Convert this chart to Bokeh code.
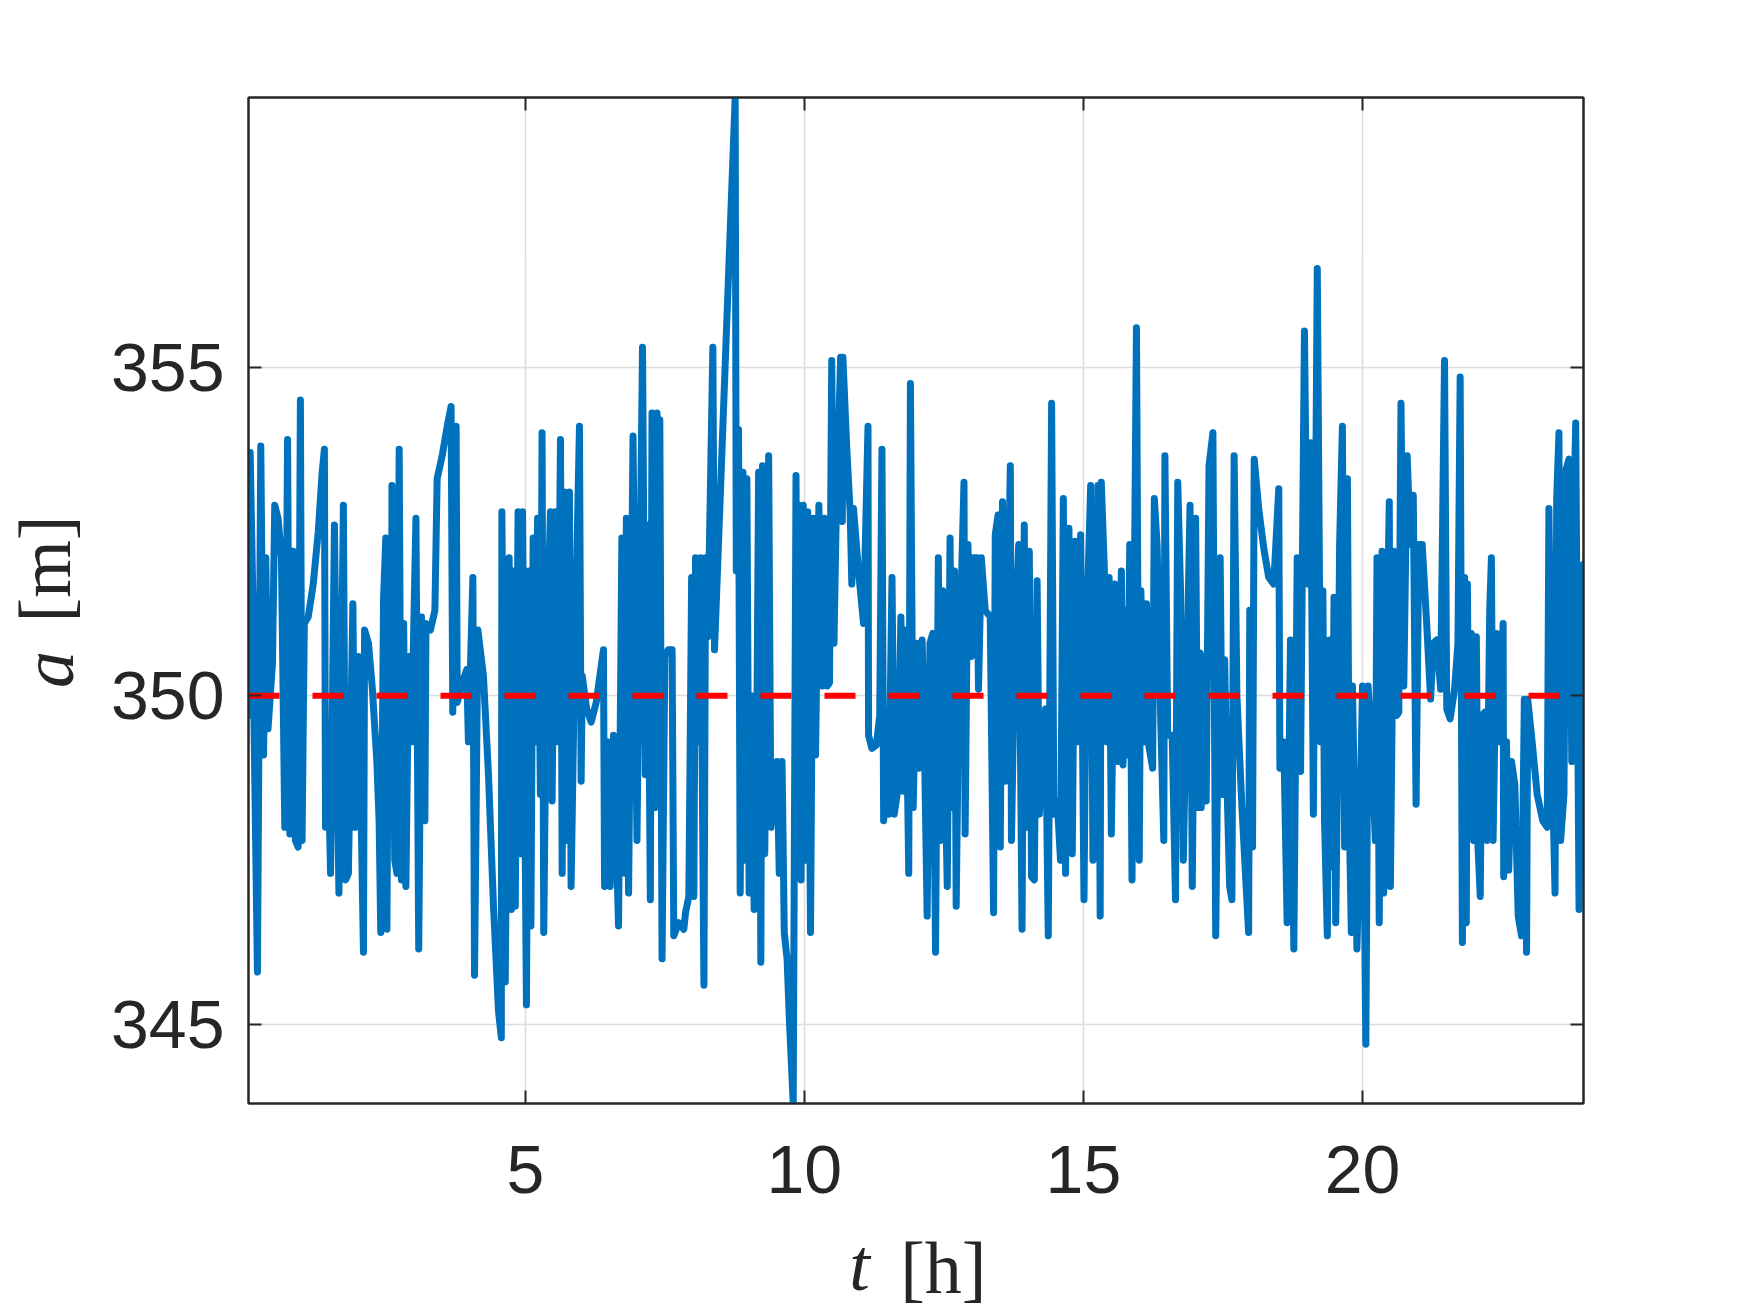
import numpy as np
from bokeh.plotting import figure
from bokeh.models import Range1d, FixedTicker, LinearAxis
from bokeh.embed import file_html
from bokeh.resources import INLINE

# ---------------- data ----------------
t_h = [0.04, 0.07, 0.12, 0.14, 0.20, 0.26, 0.31, 0.35, 0.39, 0.47, 0.51, 0.57, 0.63, 0.69, 0.74, 0.78,
       0.84, 0.88, 0.93, 0.97, 1.00, 1.04, 1.11, 1.20, 1.29, 1.36, 1.40, 1.42, 1.47, 1.51, 1.58, 1.63,
       1.66, 1.74, 1.78, 1.83, 1.91, 1.95, 2.01, 2.10, 2.12, 2.19, 2.26, 2.34, 2.38, 2.41, 2.46, 2.50,
       2.52, 2.56, 2.60, 2.61, 2.66, 2.70, 2.74, 2.78, 2.82, 2.86, 2.91, 2.96, 3.04, 3.09, 3.14, 3.20,
       3.22, 3.30, 3.38, 3.42, 3.51, 3.60, 3.67, 3.70, 3.76, 3.78, 3.87, 3.95, 3.98, 4.06, 4.09, 4.15,
       4.25, 4.34, 4.43, 4.52, 4.57, 4.58, 4.64, 4.71, 4.75, 4.79, 4.82, 4.87, 4.91, 4.95,
       5.02, 5.06, 5.10, 5.14, 5.18, 5.22, 5.27, 5.30, 5.33, 5.38, 5.45, 5.48, 5.53, 5.58, 5.63, 5.66,
       5.70, 5.75, 5.79, 5.82, 5.88, 5.97, 6.00, 6.02, 6.10, 6.18, 6.27, 6.40, 6.42, 6.47, 6.52, 6.58,
       6.67, 6.73, 6.79, 6.81, 6.85, 6.93, 7.00, 7.10, 7.15, 7.19, 7.24, 7.27, 7.32,
       7.36, 7.39, 7.41, 7.45, 7.50, 7.56, 7.63, 7.66, 7.75, 7.84, 7.87, 7.93, 7.98, 8.02, 8.05, 8.09,
       8.14, 8.20, 8.23, 8.27, 8.36, 8.39, 8.76, 8.78, 8.82, 8.85, 8.90, 8.93, 8.97, 9.01, 9.05, 9.10,
       9.15, 9.18, 9.22, 9.25, 9.29, 9.36, 9.40, 9.45, 9.51, 9.55, 9.60, 9.64, 9.69, 9.73, 9.80,
       9.85, 9.88, 9.90, 9.94, 9.98, 10.02, 10.06, 10.11, 10.16, 10.20, 10.26, 10.32, 10.36, 10.41,
       10.45, 10.49, 10.53, 10.57, 10.65, 10.68, 10.69, 10.76, 10.82, 10.85, 10.88, 10.97, 11.06,
       11.14, 11.15, 11.21, 11.29, 11.35, 11.39, 11.42, 11.48, 11.51, 11.57, 11.61, 11.67, 11.73,
       11.77, 11.81, 11.87, 11.90, 11.95, 12.01, 12.05, 12.11, 12.15, 12.20,
       12.25, 12.30, 12.35, 12.40, 12.44, 12.48, 12.51, 12.56, 12.61, 12.65, 12.69, 12.72, 12.77,
       12.86, 12.88, 12.93, 12.99, 13.03, 13.09, 13.12, 13.17, 13.24, 13.33, 13.39, 13.42, 13.47,
       13.51, 13.55, 13.60, 13.69, 13.71, 13.77, 13.84, 13.90, 13.94, 13.98, 14.03, 14.07, 14.12,
       14.17, 14.21, 14.27, 14.32, 14.37, 14.43, 14.47, 14.53, 14.59, 14.64,
       14.68, 14.74, 14.80, 14.85, 14.90, 14.95, 15.01, 15.05, 15.13, 15.17, 15.22, 15.26, 15.30,
       15.32, 15.38, 15.42, 15.46, 15.50, 15.56, 15.62, 15.68, 15.71, 15.75, 15.79, 15.83, 15.87,
       15.95, 16.00, 16.03, 16.08, 16.13, 16.17, 16.24, 16.27, 16.32, 16.38, 16.44, 16.46, 16.51,
       16.59, 16.65, 16.69, 16.74, 16.79, 16.83, 16.91, 16.95, 17.01, 17.05, 17.09,
       17.11, 17.16, 17.20, 17.25, 17.32, 17.37, 17.41, 17.45, 17.49, 17.53, 17.58, 17.62, 17.66,
       17.70, 17.75, 17.84, 17.96, 17.98, 18.03, 18.06, 18.14, 18.23, 18.32, 18.41, 18.50, 18.52,
       18.59, 18.65, 18.71, 18.77, 18.83, 18.89, 18.96, 19.01, 19.07, 19.12, 19.19, 19.25, 19.29,
       19.32, 19.37, 19.41, 19.45,
       19.49, 19.52, 19.56, 19.59, 19.64, 19.68, 19.73, 19.76, 19.80, 19.82, 19.87, 19.90, 19.95,
       20.00, 20.06, 20.10, 20.16, 20.23, 20.26, 20.30, 20.35, 20.38, 20.43, 20.48, 20.50, 20.56,
       20.61, 20.65, 20.69, 20.74, 20.80, 20.86, 20.91, 20.96, 21.01, 21.07, 21.15, 21.22, 21.27,
       21.33, 21.40, 21.47, 21.51, 21.57, 21.65, 21.71, 21.75, 21.79, 21.83,
       21.86, 21.88, 21.91, 21.95, 21.99, 22.04, 22.07, 22.11, 22.14, 22.19, 22.23, 22.28, 22.31,
       22.34, 22.40, 22.44, 22.52, 22.53, 22.58, 22.62, 22.67, 22.73, 22.79, 22.85, 22.90, 22.94,
       22.96, 23.04, 23.13, 23.23, 23.31, 23.34, 23.39, 23.45, 23.48, 23.52, 23.55, 23.61, 23.65,
       23.70, 23.75, 23.78, 23.82, 23.88, 23.94, 23.96]

a_m = [349.7, 353.7, 351.4, 349.5, 345.8, 353.8, 349.1, 352.1, 349.5, 350.5, 352.9, 352.7, 352.1, 348.0, 353.9, 347.9,
       352.2, 347.8, 347.7, 354.5, 347.8, 351.1, 351.2, 351.7, 352.5, 353.4, 353.75, 348.0, 348.9, 347.3, 352.6, 348.9,
       347.0, 352.9, 347.2, 347.3, 351.4, 348.0, 350.6, 346.1, 351.0, 350.8, 350.1, 349.0, 348.1, 346.4, 351.5, 352.4,
       346.45, 352.3, 348.8, 353.2, 347.5, 347.3, 353.75, 347.2, 351.1, 347.1, 350.6, 349.3, 352.7, 346.15, 351.2, 348.1,
       351.1, 351.0, 351.3, 353.3, 353.65, 354.1, 354.4, 349.75, 354.1, 349.9, 350.2, 350.4, 349.3, 351.8, 345.75, 351.0,
       350.3, 348.8, 346.8, 345.2, 344.8, 352.8, 345.65, 352.1, 346.75, 351.9, 346.8, 352.8, 347.6, 352.8,
       345.3, 351.9, 346.5, 352.4, 349.3, 352.7, 348.5, 354.0, 346.4, 350.5, 352.8, 348.4, 352.8, 349.3, 353.9, 347.3,
       353.1, 347.8, 353.1, 347.1, 350.3, 354.1, 348.7, 350.3, 349.8, 349.6, 349.9, 350.7, 347.1, 349.3, 347.1, 349.4,
       346.5, 352.4, 347.3, 352.7, 347.0, 353.95, 347.8, 355.3, 348.8, 352.6, 346.9, 354.3, 348.3,
       354.3, 349.3, 354.2, 346.0, 350.6, 350.7, 350.7, 346.35, 346.55, 346.45, 346.7, 346.95, 351.8, 346.95, 352.1, 349.3,
       352.1, 345.6, 352.1, 350.9, 355.3, 350.7, 359.1, 351.9, 354.05, 347.0, 353.4, 347.5, 353.3, 347.0, 350.0, 346.75,
       349.7, 353.4, 345.95, 353.5, 347.6, 353.65, 348.0, 348.5, 349.0, 347.3, 349.0, 346.4, 346.0, 345.1, 343.8,
       353.35, 349.3, 352.9, 347.2, 352.9, 347.5, 352.8, 346.4, 352.7, 349.1, 352.9, 350.15, 352.7, 350.15,
       350.2, 355.1, 350.8, 352.7, 355.15, 352.65, 355.15, 353.75, 352.8, 351.7, 352.85, 351.9, 351.1,
       354.1, 349.4, 349.2, 349.25, 349.7, 353.75, 348.1, 348.8, 348.2, 351.8, 348.2, 348.55, 351.2,
       348.55, 351.0, 347.3, 354.75, 348.3, 350.8, 348.9, 350.85, 349.3, 346.65,
       350.8, 350.95, 346.1, 352.1, 347.8, 351.6, 349.3, 347.1, 352.4, 348.3, 351.9, 346.8, 350.3,
       353.25, 347.9, 352.3, 350.6, 352.1, 352.1, 350.1, 352.1, 351.3, 351.2, 346.7, 352.45, 352.75,
       347.7, 352.95, 348.7, 353.5, 347.8, 350.8, 352.3, 346.45, 352.6, 348.0, 352.2, 347.25, 347.2,
       351.75, 348.2, 349.2, 349.8, 346.35, 354.45, 348.2, 348.4, 347.5, 353.0,
       347.3, 352.55, 347.6, 352.35, 349.3, 352.45, 346.9, 350.8, 353.2, 347.5, 348.2, 353.2, 346.65,
       353.25, 351.8, 349.3, 351.8, 347.9, 351.7, 349.0, 351.9, 348.95, 351.3, 349.1, 352.3, 347.2,
       355.6, 347.5, 351.6, 349.3, 351.4, 349.25, 348.9, 353.0, 352.3, 349.8, 347.8, 353.65, 349.4,
       349.4, 346.9, 353.25, 351.6, 347.5, 349.3, 352.9, 347.1, 352.7, 348.3, 350.65,
       348.3, 350.6, 348.4, 353.5, 354.0, 346.35, 349.3, 352.1, 348.5, 350.55, 348.4, 347.1, 346.9,
       353.65, 350.0, 348.3, 346.4, 351.3, 347.7, 353.6, 352.85, 352.25, 351.8, 351.7, 353.15, 348.9,
       349.3, 346.55, 350.85, 346.15, 352.1, 348.85, 355.55, 351.7, 353.85, 348.2, 356.5, 349.3, 351.6,
       348.1, 346.35, 350.85, 347.4,
       351.5, 346.55, 349.3, 352.3, 354.1, 347.7, 353.3, 348.3, 346.4, 350.15, 347.8, 346.15, 347.8,
       350.15, 344.7, 350.15, 349.3, 347.8, 352.1, 346.55, 352.2, 347.0, 350.3, 352.95, 347.1, 352.2,
       349.7, 349.75, 354.45, 350.15, 353.65, 352.3, 353.05, 348.35, 352.3, 352.3, 351.1, 349.95, 350.8,
       350.85, 350.1, 355.1, 349.8, 349.65, 350.1, 350.8, 354.85, 346.25, 351.8,
       346.55, 351.7, 347.9, 350.95, 347.8, 350.9, 347.7, 346.95, 349.7, 349.75, 347.8, 351.3, 352.1,
       347.8, 350.95, 349.3, 351.1, 347.25, 349.3, 347.35, 349.0, 348.65, 346.65, 346.35, 349.95, 346.1,
       349.95, 349.3, 348.5, 348.1, 348.0, 352.85, 349.3, 347.0, 353.0, 354.0, 347.8, 348.5, 353.45,
       353.6, 349.0, 352.4, 354.15, 346.75, 351.3, 352.0]

ref_level = 350.0
x_ticks = [5, 10, 15, 20]
y_ticks = [345, 350, 355]

AX = "#262626"
TICK_FONT = "Liberation Sans"
TICK_SIZE = "68px"
LBL_FONT = "Liberation Serif"
LBL_SIZE = "74px"

t0, t1 = min(t_h), max(t_h)
p = figure(width=1750, height=1313, output_backend="svg", toolbar_location=None,
           x_range=Range1d(t0, t1), y_range=Range1d(min(a_m), max(a_m)),
           min_border_left=248, min_border_right=167, min_border_top=97, min_border_bottom=210,
           background_fill_color="white", border_fill_color="white")

p.outline_line_color = AX
p.outline_line_width = 2

p.xgrid.ticker = FixedTicker(ticks=x_ticks)
p.ygrid.ticker = FixedTicker(ticks=y_ticks)
for g in (p.xgrid, p.ygrid):
    g.grid_line_color = "#dcdcdc"
    g.grid_line_width = 1.5


def style_axis(ax, ticks, standoff):
    ax.ticker = FixedTicker(ticks=ticks)
    ax.major_tick_in = 13
    ax.major_tick_out = 0
    ax.minor_tick_line_color = None
    ax.axis_line_color = AX
    ax.axis_line_width = 2
    ax.major_tick_line_color = AX
    ax.major_tick_line_width = 2
    ax.major_label_text_font = TICK_FONT
    ax.major_label_text_font_size = TICK_SIZE
    ax.major_label_text_color = AX
    ax.major_label_standoff = standoff


style_axis(p.xaxis[0], x_ticks, 42)
style_axis(p.yaxis[0], y_ticks, 24)

# mirrored ticks on top and right (box on)
top_ax = LinearAxis()
right_ax = LinearAxis()
style_axis(top_ax, x_ticks, 0)
style_axis(right_ax, y_ticks, 0)
top_ax.major_label_overrides = {v: "" for v in x_ticks}
right_ax.major_label_overrides = {v: "" for v in y_ticks}
top_ax.major_label_text_font_size = "1px"
right_ax.major_label_text_font_size = "1px"
p.add_layout(top_ax, "above")
p.add_layout(right_ax, "right")


# axis titles: italic symbol + upright unit, set as single-tick label axes
def title_axis(pos, text, style, standoff, vertical=False):
    ax = LinearAxis()
    ax.ticker = FixedTicker(ticks=[pos])
    ax.major_label_overrides = {pos: text}
    ax.axis_line_color = None
    ax.major_tick_line_color = None
    ax.minor_tick_line_color = None
    ax.major_tick_in = 0
    ax.major_tick_out = 0
    ax.major_label_standoff = standoff
    ax.major_label_text_font = LBL_FONT
    ax.major_label_text_font_style = style
    ax.major_label_text_font_size = LBL_SIZE
    ax.major_label_text_color = AX
    if vertical:
        ax.major_label_orientation = "vertical"
    return ax


p.add_layout(title_axis(10.99, "t", "italic", 28), "below")
p.add_layout(title_axis(12.49, "[h]", "normal", -82), "below")
p.add_layout(title_axis(350.40, "a", "italic", 19, vertical=True), "left")
p.add_layout(title_axis(351.93, "[m]", "normal", -82, vertical=True), "left")

# series
p.line(t_h, a_m, line_color="#0072BD", line_width=7, line_join="round", line_cap="round")
p.line([t0, t1], [ref_level, ref_level], line_color="#FF0000", line_width=6, line_dash="31 33")

open("out.html", "w").write(file_html(p, INLINE))
